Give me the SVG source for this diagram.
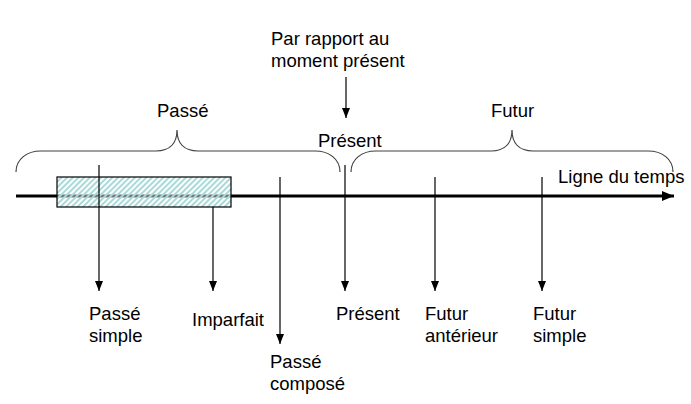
<svg xmlns="http://www.w3.org/2000/svg" width="691" height="404" viewBox="0 0 691 404">
<style>
text{font-family:"Liberation Sans",Arial,sans-serif;font-size:18.5px;fill:#000}
.v{stroke:#000;stroke-width:1.2;fill:none;marker-end:url(#ah)}
.br{stroke:#404040;stroke-width:1.2;fill:none}
</style>
<defs>
<marker id="ah" viewBox="0 0 10 8" refX="10" refY="4" markerWidth="10" markerHeight="8" markerUnits="userSpaceOnUse" orient="auto">
<path d="M0,0 L10,4 L0,8 Z" fill="#000"/>
</marker>
<marker id="big" viewBox="0 0 12 10" refX="12" refY="5" markerWidth="12" markerHeight="10" markerUnits="userSpaceOnUse" orient="auto">
<path d="M0,0 L12,5 L0,10 Z" fill="#000"/>
</marker>
<pattern id="hatch" width="4" height="4" patternUnits="userSpaceOnUse" patternTransform="rotate(45)">
<rect x="0" y="0" width="2" height="4" fill="#a8dada"/>
</pattern>
</defs>
<g id="texts">
<text x="271" y="45">Par rapport au</text>
<text x="271" y="67">moment présent</text>
<text x="157" y="117">Passé</text>
<text x="491" y="117">Futur</text>
<text x="318" y="147">Présent</text>
<text x="558" y="183">Ligne du temps</text>
</g>
<g id="braces">
<path class="br" d="M16,172 C16,159 27,151 41,151 L156,151 C170,151 177,143 177,130 C177,143 184,151 198,151 L315,151 C329,151 340,159 340,172"/>
<path class="br" d="M351,172 C351,159 362,151 376,151 L491,151 C505,151 512,143 512,130 C512,143 519,151 533,151 L648,151 C662,151 673,159 673,172"/>
</g>
<g id="timeline">
<line x1="16" y1="196" x2="674" y2="196" stroke="#000" stroke-width="3" marker-end="url(#big)"/>
</g>
<g id="imparfait-span">
<rect x="57" y="177" width="174" height="30" fill="#fff" fill-opacity="0.45"/>
<rect x="57" y="177" width="174" height="30" fill="url(#hatch)" stroke="#000" stroke-width="1.2"/>
</g>
<g id="connectors">
<line class="v" x1="346" y1="77" x2="346" y2="118"/>
<line class="v" x1="99" y1="165" x2="99" y2="291"/>
<line class="v" x1="213" y1="207" x2="213" y2="291"/>
<line class="v" x1="280" y1="177" x2="280" y2="344"/>
<line class="v" x1="345" y1="165" x2="345" y2="291"/>
<line class="v" x1="435" y1="177" x2="435" y2="291"/>
<line class="v" x1="542" y1="177" x2="542" y2="291"/>
</g>
<g id="passe-simple"><text x="89" y="320">Passé</text><text x="89" y="342">simple</text></g>
<g id="imparfait"><text x="192" y="326">Imparfait</text></g>
<g id="passe-compose"><text x="270" y="368">Passé</text><text x="270" y="390">composé</text></g>
<g id="present"><text x="336" y="320">Présent</text></g>
<g id="futur-anterieur"><text x="425" y="320">Futur</text><text x="425" y="342">antérieur</text></g>
<g id="futur-simple"><text x="533" y="320">Futur</text><text x="533" y="342">simple</text></g>
</svg>
